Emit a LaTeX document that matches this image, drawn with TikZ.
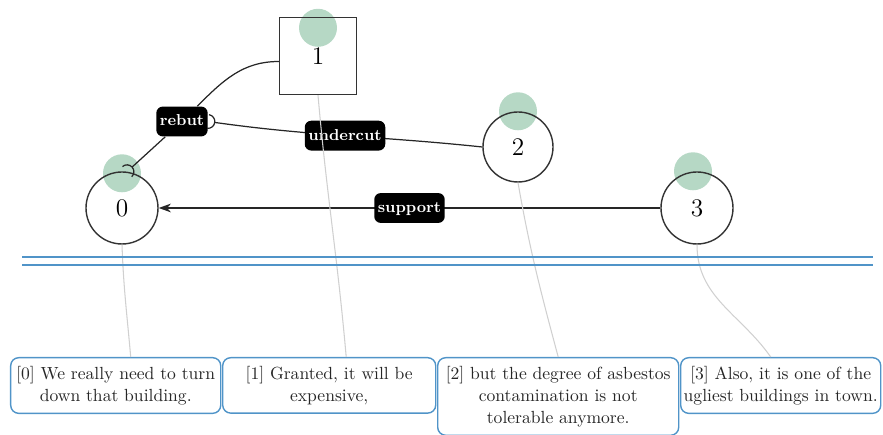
\documentclass[tikz,border=0pt]{standalone}
\usepackage{amsmath,amssymb}
\usetikzlibrary{shapes,arrows.meta,positioning,backgrounds}
\definecolor{mint}{RGB}{182,216,197}
\definecolor{sky}{RGB}{80,148,200}
\definecolor{wire}{RGB}{208,208,208}
\tikzstyle{unit} = [draw=black!80,line width=0.8pt,circle,minimum size=1.44cm,inner sep=0,font=\Large]
\tikzstyle{claim} = [draw=black!80,line width=0.8pt,rectangle,minimum size=1.54cm,inner sep=0,font=\Large]
\tikzstyle{focus} = [fill=mint,circle,minimum size=0.76cm,inner sep=0]
\tikzstyle{rel} = [line width=0.7pt,black!85]
\tikzstyle{tag} = [fill=black,text=white,rounded corners=.13cm,inner xsep=2pt,inner ysep=4pt,text height=7pt,text depth=2pt,font=\small\bfseries]
\tikzstyle{seg} = [draw=sky,line width=0.8pt,rounded corners=.16cm,anchor=north west,align=center,inner xsep=1pt,inner ysep=4.8pt,font=\fontsize{10}{12.5}\selectfont,text=black!85]
\tikzstyle{link} = [wire,line width=0.6pt]
\tikzstyle{rail} = [sky,line width=0.9pt]
\def \tip {Arc Barb[reversed,length=4.2pt,width=8.5pt]}

\begin{document}
\begin{tikzpicture}
  \useasboundingbox (0,0) rectangle (17.66,8.7);
  \node[unit] (n0) at (2.44,4.54) {0};
  \node[claim] (n1) at (6.36,7.58) {1};
  \node[unit,minimum size=1.4cm] (n2) at (10.36,5.76) {2};
  \node[unit] (n3) at (13.94,4.54) {3};
  \begin{scope}[on background layer]
    \node[focus] (f0) at ([yshift=-.04cm]n0.north) {};
    \node[focus] (f1) at ([yshift=-.22cm]n1.north) {};
    \node[focus] (f2) at (n2.north) {};
    \node[focus] (f3) at ([xshift=-.08cm]n3.north) {};
  \end{scope}
  \node[tag] (rb) at (3.64,6.27) {rebut};
  \draw[rel,-{\tip}] (n1.188) to[out=180,in=45] (rb) -- (n0.82);
  \draw[rel,-{\tip}] (n2.west) to[out=174,in=-8] node[tag] (uc) {undercut} (rb.east);
  \draw[rel,-{Stealth[length=7pt,width=5pt]}] (n3) -- node[tag] (sp) {support} (n0);
  \node[seg,text width=4.13cm] (t0) at (0.2,1.56) {[0] We really need to turn\\ down that building.};
  \node[seg,text width=4.19cm] (t1) at (4.44,1.56) {[1] Granted, it will be\\ expensive,};
  \node[seg,text width=4.75cm] (t2) at (8.74,1.56) {[2] but the degree of asbestos\\ contamination is not\\ tolerable anymore.};
  \node[seg,text width=3.93cm] (t3) at (13.6,1.56) {[3] Also, it is one of the\\ ugliest buildings in town.};
  \draw[link] (n0.south) to[out=-88,in=95] ([xshift=.3cm]t0.north);
  \draw[link] (n1.south) to[out=-85,in=95] ([xshift=.34cm]t1.north);
  \draw[link] (n2.south) to[out=-80,in=105] (t2.north);
  \draw[link] (n3.south) to[out=-90,in=125] ([xshift=-.2cm]t3.north);
  \draw[rail] (0.44,3.56) -- (17.46,3.56);
  \draw[rail] (0.44,3.40) -- (17.46,3.40);
\end{tikzpicture}
\end{document}
